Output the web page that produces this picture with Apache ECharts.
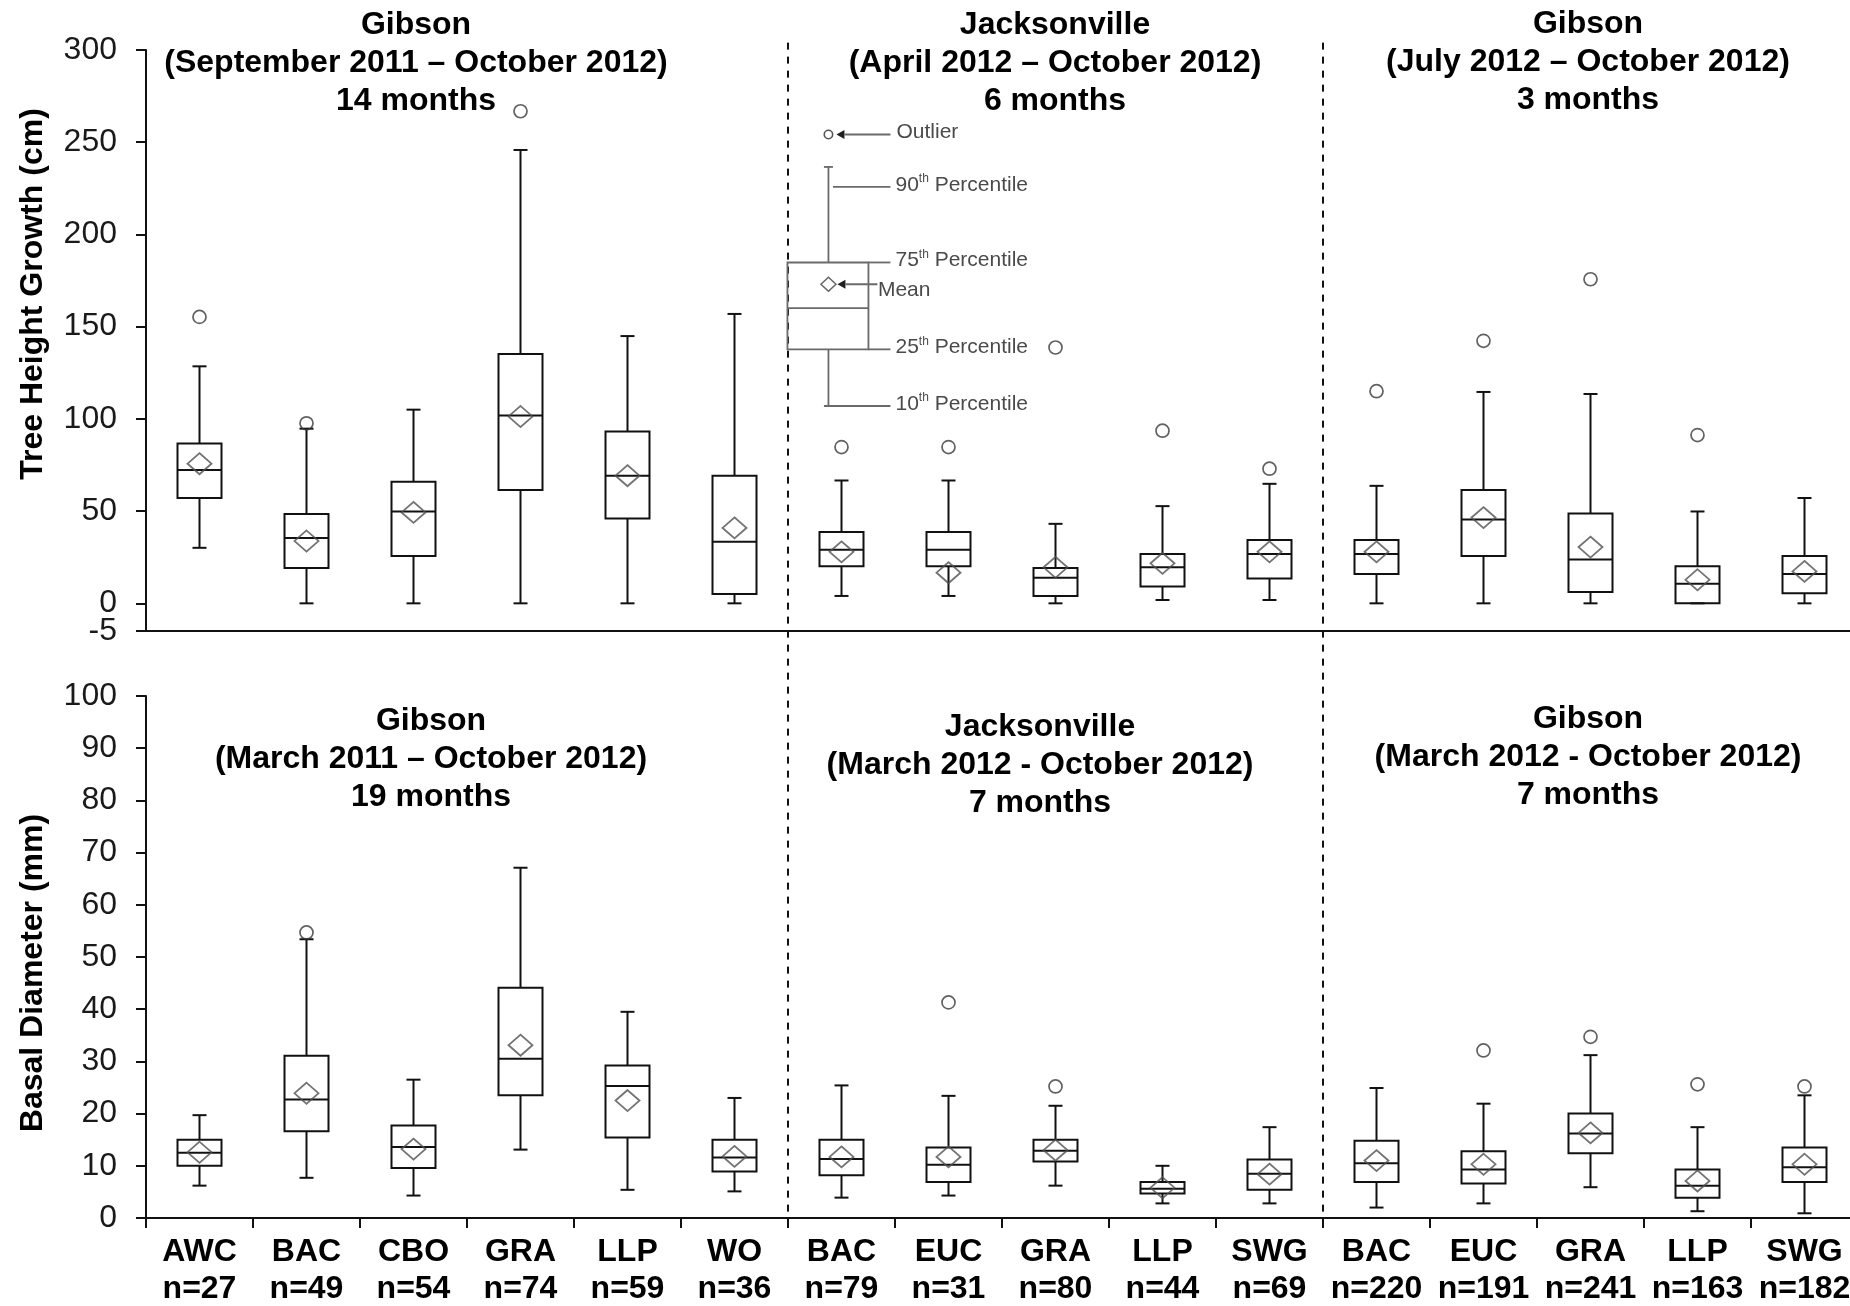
<!DOCTYPE html>
<html>
<head>
<meta charset="utf-8">
<title>Tree height growth and basal diameter</title>
<script src="https://cdn.jsdelivr.net/npm/echarts@6/dist/echarts.min.js"></script>
<style>
  html, body { margin: 0; padding: 0; background: #ffffff; }
  #chart { width: 1850px; height: 1306px; }
</style>
</head>
<body>
<div id="chart"></div>
<script>
// ---- categories (Gibson 2011 planting, Jacksonville, Gibson 2012 planting) ----
const species = ['AWC', 'BAC', 'CBO', 'GRA', 'LLP', 'WO',
                 'BAC', 'EUC', 'GRA', 'LLP', 'SWG',
                 'BAC', 'EUC', 'GRA', 'LLP', 'SWG'];
const sampleSizes = [27, 49, 54, 74, 59, 36, 79, 31, 80, 44, 69, 220, 191, 241, 163, 182];

// ---- tree height growth (cm) ----
const heightP10    = [30.1, 0, 0, 0, 0, 0,        4.0, 4.0, 0, 1.8, 1.8,     0, 0, 0, 0, 0];
const heightQ1     = [57.1, 19.2, 25.7, 61.5, 46.0, 5.1,   20.1, 20.1, 4.0, 9.1, 13.5,   15.9, 25.7, 6.2, 0, 5.5];
const heightMedian = [72.3, 35.4, 49.8, 101.8, 69.2, 33.4, 29.0, 29.0, 13.9, 19.5, 26.8,  26.8, 45.4, 23.7, 10.6, 15.9];
const heightQ3     = [86.7, 48.5, 65.9, 135.2, 93.1, 69.2, 38.7, 38.7, 19.2, 26.8, 34.3,  34.3, 61.5, 48.7, 20.1, 25.7];
const heightP90    = [128.5, 94.7, 105.0, 245.8, 144.9, 156.9, 66.6, 66.6, 43.1, 52.7, 64.8, 63.7, 114.6, 113.5, 49.8, 57.1];
const heightMean   = [75.7, 33.8, 49.3, 101.3, 69.2, 40.9, 27.9, 16.6, 19.5, 21.7, 27.9,  27.9, 46.5, 30.5, 12.8, 17.3];
const heightOutlier = [155.3, 97.6, null, 266.8, null, null, 84.7, 84.7, 138.7, 93.6, 73.0, 115.0, 142.3, 175.7, 91.2, null];

// ---- basal diameter (mm) ----
const diamP10    = [6.2, 7.7, 4.3, 13.1, 5.4, 5.1,    3.9, 4.3, 6.2, 2.8, 2.8,     2.0, 2.8, 5.9, 1.3, 0.9];
const diamQ1     = [10.0, 16.6, 9.6, 23.5, 15.4, 8.9, 8.2, 6.9, 10.8, 4.7, 5.4,    6.9, 6.6, 12.4, 3.9, 6.9];
const diamMedian = [12.5, 22.7, 13.6, 30.5, 25.3, 11.6, 11.3, 10.2, 12.9, 5.6, 8.5, 10.5, 9.3, 16.2, 6.2, 9.7];
const diamQ3     = [15.0, 31.1, 17.7, 44.1, 29.2, 15.0, 15.0, 13.5, 15.0, 6.9, 11.2, 14.8, 12.8, 20.0, 9.3, 13.5];
const diamP90    = [19.7, 53.4, 26.5, 67.1, 39.5, 23.0, 25.4, 23.4, 21.5, 10.0, 17.4, 24.9, 21.9, 31.2, 17.4, 23.5];
const diamMean   = [12.6, 23.9, 13.2, 33.1, 22.5, 11.8, 11.7, 11.7, 13.0, 5.8, 8.4,  11.0, 10.3, 16.3, 7.1, 10.3];
const diamOutlier = [null, 54.7, null, null, null, null, null, 41.3, 25.2, null, null, null, 32.1, 34.7, 25.6, 25.2];

// ---- axis ticks ----
const heightTickValues = [-15, 0, 50, 100, 150, 200, 250, 300];
const heightTickLabels = ['-5', '0', '50', '100', '150', '200', '250', '300'];
const diamTickStep = 10;

// ---- explanatory key (height units): 10th, 25th, median, 75th, 90th ----
const keyPercentiles = [107.0, 137.7, 160.1, 184.8, 236.6];
const keyMean = 173.0;
const keyOutlier = 254.2;

// ---- panel titles ----
const panelTitles = [
  'Gibson\n(September 2011 – October 2012)\n14 months',
  'Jacksonville\n(April 2012 – October 2012)\n6 months',
  'Gibson\n(July 2012 – October 2012)\n3 months',
  'Gibson\n(March 2011 – October 2012)\n19 months',
  'Jacksonville\n(March 2012 - October 2012)\n7 months',
  'Gibson\n(March 2012 - October 2012)\n7 months'
];
const siteSeparators = [5.5, 10.5];

const FONT = '"Liberation Sans", Arial, Helvetica, sans-serif';
const KEY_X = 5.878;   // horizontal anchor of the key, in category units
const INK = '#111111';

function boxRows(p10, q1, med, q3, p90) {
  return p10.map((v, i) => [i, v, q1[i], med[i], q3[i], p90[i]]);
}
function pointRows(vals) {
  return vals.map((v, i) => (v == null ? null : [i, v])).filter(Boolean);
}
const heightLabel = v => heightTickLabels[heightTickValues.indexOf(v)];

function renderBox(params, api) {
  const i = api.value(0);
  const lo = api.coord([i, api.value(1)]);
  const q1 = api.coord([i, api.value(2)]);
  const md = api.coord([i, api.value(3)]);
  const q3 = api.coord([i, api.value(4)]);
  const hi = api.coord([i, api.value(5)]);
  const cx = lo[0];
  const bw = 44, cw = 14;
  const st = { stroke: INK, lineWidth: 2, fill: 'none' };
  return {
    type: 'group',
    children: [
      { type: 'line', shape: { x1: cx, y1: hi[1], x2: cx, y2: q3[1] }, style: st },
      { type: 'line', shape: { x1: cx - cw / 2, y1: hi[1], x2: cx + cw / 2, y2: hi[1] }, style: st },
      { type: 'line', shape: { x1: cx, y1: q1[1], x2: cx, y2: lo[1] }, style: st },
      { type: 'line', shape: { x1: cx - cw / 2, y1: lo[1], x2: cx + cw / 2, y2: lo[1] }, style: st },
      { type: 'rect', shape: { x: cx - bw / 2, y: q3[1], width: bw, height: q1[1] - q3[1] }, style: st },
      { type: 'line', shape: { x1: cx - bw / 2, y1: md[1], x2: cx + bw / 2, y2: md[1] }, style: st }
    ]
  };
}

function keyText(text, x, y) {
  return {
    type: 'text', x: x, y: y,
    style: {
      text: text, fill: '#4a4a4a', fontFamily: FONT, fontSize: 21,
      align: 'left', verticalAlign: 'middle',
      rich: {
        n: { fontSize: 21, fontFamily: FONT, fill: '#4a4a4a', lineHeight: 24 },
        s: { fontSize: 12, fontFamily: FONT, fill: '#4a4a4a', lineHeight: 24, verticalAlign: 'top' }
      }
    }
  };
}

function renderKey(params, api) {
  const y = v => api.coord([KEY_X, v])[1];
  const cx = api.coord([KEY_X, 0])[0];
  const [p10, q1, med, q3, p90] = keyPercentiles.map(y);
  const ym = y(keyMean), yo = y(keyOutlier);
  const ln = { stroke: '#6a6a6a', lineWidth: 1.8, fill: 'none' };
  const tip = { fill: '#1f1f1f', stroke: 'none' };
  const lead = cx + 62, tx = cx + 68;
  return {
    type: 'group',
    children: [
      // sample box
      { type: 'line', shape: { x1: cx, y1: p90, x2: cx, y2: q3 }, style: ln },
      { type: 'line', shape: { x1: cx - 4.5, y1: p90, x2: cx + 4.5, y2: p90 }, style: ln },
      { type: 'rect', shape: { x: cx - 41, y: q3, width: 81, height: q1 - q3 }, style: ln },
      { type: 'line', shape: { x1: cx - 41, y1: med, x2: cx + 40, y2: med }, style: ln },
      { type: 'line', shape: { x1: cx, y1: q1, x2: cx, y2: p10 }, style: ln },
      { type: 'line', shape: { x1: cx - 4.5, y1: p10, x2: lead, y2: p10 }, style: ln },
      // leaders
      { type: 'line', shape: { x1: cx + 4.5, y1: p90 + 20, x2: lead, y2: p90 + 20 }, style: ln },
      { type: 'line', shape: { x1: cx + 40, y1: q3, x2: lead, y2: q3 }, style: ln },
      { type: 'line', shape: { x1: cx + 40, y1: q1, x2: lead, y2: q1 }, style: ln },
      // outlier + arrow
      { type: 'circle', shape: { cx: cx, cy: yo, r: 4.2 }, style: { stroke: '#555', lineWidth: 1.6, fill: 'none' } },
      { type: 'polygon', shape: { points: [[cx + 8, yo], [cx + 16, yo - 4.5], [cx + 16, yo + 4.5]] }, style: tip },
      { type: 'line', shape: { x1: cx + 16, y1: yo, x2: lead, y2: yo }, style: ln },
      // mean + arrow
      { type: 'polygon', shape: { points: [[cx - 7.5, ym], [cx, ym - 7], [cx + 7.5, ym], [cx, ym + 7]] }, style: { stroke: '#666', lineWidth: 1.5, fill: 'none' } },
      { type: 'polygon', shape: { points: [[cx + 9, ym], [cx + 17, ym - 4.5], [cx + 17, ym + 4.5]] }, style: tip },
      { type: 'line', shape: { x1: cx + 17, y1: ym, x2: cx + 49, y2: ym }, style: ln },
      // labels
      keyText('Outlier', tx, yo - 2),
      keyText('{n|90}{s|th}{n| Percentile}', tx - 1, p90 + 18),
      keyText('{n|75}{s|th}{n| Percentile}', tx - 1, q3 - 2),
      keyText('Mean', cx + 49.5, ym + 6),
      keyText('{n|25}{s|th}{n| Percentile}', tx - 1, q1 - 2),
      keyText('{n|10}{s|th}{n| Percentile}', tx - 1, p10 - 2)
    ]
  };
}

const axisLineStyle = { lineStyle: { color: INK, width: 2 } };
const tickLabelStyle = { color: '#1a1a1a', fontFamily: FONT, fontSize: 32, margin: 29 };

const chart = echarts.init(document.getElementById('chart'), null, { renderer: 'canvas' });

const option = {
  backgroundColor: '#ffffff',
  animation: false,
  grid: [
    { left: 146, top: 50, width: 1712, height: 581, outerBoundsMode: 'none', containLabel: false },
    { left: 146, top: 696, width: 1712, height: 522, outerBoundsMode: 'none', containLabel: false }
  ],
  xAxis: [
    { type: 'category', gridIndex: 0, data: species, boundaryGap: true,
      axisLine: { onZero: false, ...axisLineStyle }, axisTick: { show: false }, axisLabel: { show: false }, splitLine: { show: false } },
    { type: 'category', gridIndex: 1, data: species, boundaryGap: true,
      axisLine: { onZero: false, ...axisLineStyle },
      axisTick: { show: true, length: 10, inside: false, lineStyle: { color: INK, width: 2 } },
      axisLabel: { interval: 0, color: '#000', fontFamily: FONT, fontWeight: 'bold', fontSize: 32, lineHeight: 37, margin: 16,
        formatter: (v, i) => v + '\nn=' + sampleSizes[i] },
      splitLine: { show: false } },
    { type: 'value', gridIndex: 0, min: -0.5, max: 15.5, show: false },
    { type: 'value', gridIndex: 1, min: -0.5, max: 15.5, show: false }
  ],
  yAxis: [
    { type: 'value', gridIndex: 0, min: -15, max: 300, position: 'left',
      axisLine: { show: true, onZero: false, ...axisLineStyle },
      axisTick: { show: true, length: 10, customValues: heightTickValues, lineStyle: { color: INK, width: 2 } },
      axisLabel: { ...tickLabelStyle, customValues: heightTickValues.slice(1), formatter: heightLabel },
      splitLine: { show: false } },
    { type: 'value', gridIndex: 1, min: 0, max: 100, interval: diamTickStep,
      axisLine: { show: true, onZero: false, ...axisLineStyle },
      axisTick: { show: true, length: 10, lineStyle: { color: INK, width: 2 } },
      axisLabel: { ...tickLabelStyle, showMinLabel: true },
      splitLine: { show: false } },
    // carries only the bottom label of the height axis
    { type: 'value', gridIndex: 0, min: -15, max: 300, position: 'left', offset: 0,
      axisLine: { show: false, onZero: false }, axisTick: { show: false },
      axisLabel: { ...tickLabelStyle, customValues: heightTickValues.slice(0, 1), showMinLabel: true,
        padding: [10, 0, 0, 0], formatter: heightLabel },
      splitLine: { show: false } }
  ],
  series: [
    { type: 'custom', name: 'height boxes', xAxisIndex: 0, yAxisIndex: 0, clip: false,
      renderItem: renderBox, encode: { x: 0, y: [1, 2, 3, 4, 5] },
      data: boxRows(heightP10, heightQ1, heightMedian, heightQ3, heightP90), z: 2 },
    { type: 'custom', name: 'diameter boxes', xAxisIndex: 1, yAxisIndex: 1, clip: false,
      renderItem: renderBox, encode: { x: 0, y: [1, 2, 3, 4, 5] },
      data: boxRows(diamP10, diamQ1, diamMedian, diamQ3, diamP90), z: 2 },
    { type: 'scatter', name: 'height mean', xAxisIndex: 0, yAxisIndex: 0, symbol: 'diamond', symbolSize: [24, 21],
      itemStyle: { color: 'rgba(0,0,0,0)', borderColor: '#505050', borderWidth: 1.8 },
      data: pointRows(heightMean), z: 3 },
    { type: 'scatter', name: 'diameter mean', xAxisIndex: 1, yAxisIndex: 1, symbol: 'diamond', symbolSize: [24, 21],
      itemStyle: { color: 'rgba(0,0,0,0)', borderColor: '#505050', borderWidth: 1.8 },
      data: pointRows(diamMean), z: 3 },
    { type: 'scatter', name: 'height outliers', xAxisIndex: 0, yAxisIndex: 0, symbol: 'circle', symbolSize: 13,
      itemStyle: { color: 'rgba(0,0,0,0)', borderColor: '#3a3a3a', borderWidth: 1.7 },
      data: pointRows(heightOutlier), z: 3 },
    { type: 'scatter', name: 'diameter outliers', xAxisIndex: 1, yAxisIndex: 1, symbol: 'circle', symbolSize: 13,
      itemStyle: { color: 'rgba(0,0,0,0)', borderColor: '#3a3a3a', borderWidth: 1.7 },
      data: pointRows(diamOutlier), z: 3 },
    { type: 'custom', name: 'key', xAxisIndex: 2, yAxisIndex: 0, clip: false,
      renderItem: renderKey, data: [[KEY_X, keyMean]], z: 4, silent: true }
  ]
};

chart.setOption(option);

// Site separators run through both panels; positions come from the axes.
const sepTop = chart.convertToPixel({ yAxisIndex: 0 }, 304);
const sepBottom = chart.convertToPixel({ yAxisIndex: 1 }, 0) + 10;
const separatorLines = siteSeparators.map(v => {
  const x = chart.convertToPixel({ xAxisIndex: 3 }, v);
  return { type: 'line', z: 1, shape: { x1: x, y1: sepTop, x2: x, y2: sepBottom },
           style: { stroke: INK, lineWidth: 2, lineDash: [7, 7] } };
});

const titleSpots = [[416, 63], [1055, 63], [1588, 62], [431, 759], [1040, 765], [1588, 757]];
const titleTexts = panelTitles.map((t, i) => ({
  type: 'text', x: titleSpots[i][0], y: titleSpots[i][1], z: 10,
  style: { text: t, fill: '#000', fontFamily: FONT, fontWeight: 'bold', fontSize: 32, lineHeight: 38,
           align: 'center', verticalAlign: 'middle' }
}));

const axisNames = [
  { type: 'text', x: 33, y: 294, rotation: Math.PI / 2, z: 10,
    style: { text: 'Tree Height Growth (cm)', fill: '#000', fontFamily: FONT, fontWeight: 'bold', fontSize: 32,
             align: 'center', verticalAlign: 'middle' } },
  { type: 'text', x: 33, y: 973, rotation: Math.PI / 2, z: 10,
    style: { text: 'Basal Diameter (mm)', fill: '#000', fontFamily: FONT, fontWeight: 'bold', fontSize: 32,
             align: 'center', verticalAlign: 'middle' } }
];

chart.setOption({ graphic: [...separatorLines, ...titleTexts, ...axisNames] });
</script>
</body>
</html>
